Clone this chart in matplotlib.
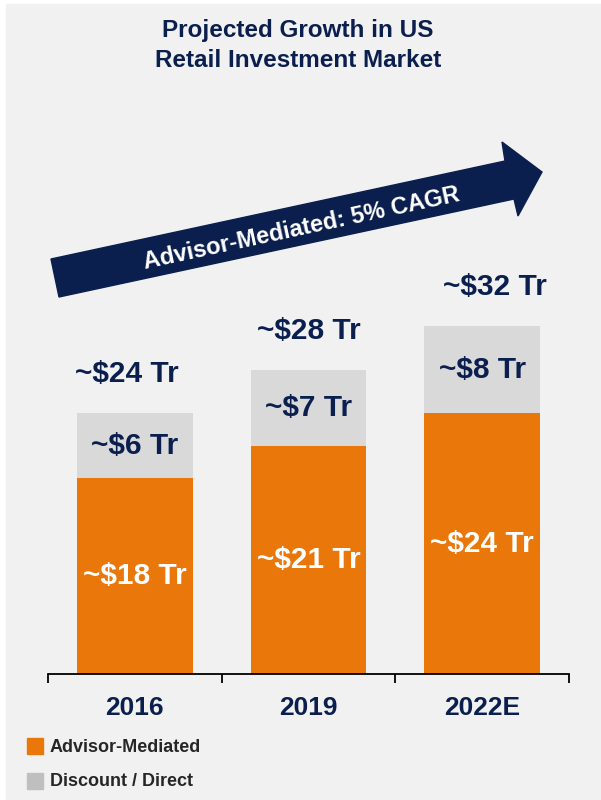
import matplotlib.pyplot as plt
from matplotlib.patches import Rectangle, Polygon

plt.rcParams['font.family'] = ['Liberation Sans', 'DejaVu Sans']

years = ["2016", "2019", "2022E"]
advisor = [18, 21, 24]
direct = [6, 7, 8]
advisor_labels = ["~$18 Tr", "~$21 Tr", "~$24 Tr"]
direct_labels = ["~$6 Tr", "~$7 Tr", "~$8 Tr"]
total_labels = ["~$24 Tr", "~$28 Tr", "~$32 Tr"]

navy = "#0b1f4e"
orange = "#e97709"
grey = "#d9d9d9"
bg = "#f1f1f1"

W, H = 601, 800
fig = plt.figure(figsize=(W / 100, H / 100), dpi=100)
fig.patch.set_facecolor("white")
fig.patches.append(Rectangle((6 / W, 0), 1 - 6 / W, 1 - 4 / H,
                             transform=fig.transFigure, color=bg, zorder=-10))

ax = fig.add_axes([48 / W, (H - 674) / H, 521 / W, 438 / H])
ax.set_facecolor("none")

x = range(len(years))
b1 = ax.bar(x, advisor, width=0.667, color=orange)
b2 = ax.bar(x, direct, width=0.667, bottom=advisor, color=grey)
ax.set_xlim(-0.5, 2.5)
ax.set_ylim(0, 40.3)

ax.bar_label(b1, labels=advisor_labels, label_type="center", color="white",
             fontsize=21.5, fontweight="bold")
ax.bar_label(b2, labels=direct_labels, label_type="center", color=navy,
             fontsize=21.5, fontweight="bold")

# total labels sit above each stack (slightly shifted like the original)
offsets = [-6, 0, 9]
for i in x:
    ax.annotate(total_labels[i], (i, advisor[i] + direct[i]),
                xytext=(offsets[i], 28), textcoords="offset points",
                ha="center", va="center", color=navy,
                fontsize=21.5, fontweight="bold")

for s in ["top", "right", "left"]:
    ax.spines[s].set_visible(False)
ax.spines["bottom"].set_linewidth(1.3)
ax.set_yticks([])
ax.set_xticks([-0.5, 0.5, 1.5, 2.5])
ax.set_xticklabels([])
ax.tick_params(axis="x", which="major", length=6.5, width=1.3, direction="out")
ax.set_xticks(list(x), years, minor=True)
ax.tick_params(axis="x", which="minor", length=0, pad=16)
for t in ax.get_xticklabels(minor=True):
    t.set_fontsize(19)
    t.set_fontweight("bold")
    t.set_color(navy)

# title
fig.text(298 / W, 1 - 31 / H, "Projected Growth in US", ha="center", va="center",
         fontsize=17.5, fontweight="bold", color=navy)
fig.text(298 / W, 1 - 60.5 / H, "Retail Investment Market", ha="center", va="center",
         fontsize=17.5, fontweight="bold", color=navy)

# growth arrow
pts = [(51, 259), (505, 161), (502, 142), (542, 172), (518, 216), (514, 199), (59, 297)]
fig.patches.append(Polygon([(px / W, 1 - py / H) for px, py in pts], closed=True,
                           transform=fig.transFigure, color=navy, zorder=5))
fig.text(301 / W, 1 - 229 / H, "Advisor-Mediated: 5% CAGR", ha="center", va="center",
         rotation=12.2, rotation_mode="anchor", fontsize=17, fontweight="bold",
         color="white", zorder=6)

# legend
legend_items = [("Advisor-Mediated", orange), ("Discount / Direct", "#bfbfbf")]
for j, (name, col) in enumerate(legend_items):
    yc = 746 + j * 35
    fig.patches.append(Rectangle((27 / W, 1 - (yc + 8) / H), 16 / W, 16 / H,
                                 transform=fig.transFigure, color=col))
    fig.text(50 / W, 1 - (yc + 1) / H, name, ha="left", va="center",
             fontsize=13, fontweight="bold", color="#262626")

fig.savefig("out.png", dpi=100, facecolor=fig.get_facecolor())
